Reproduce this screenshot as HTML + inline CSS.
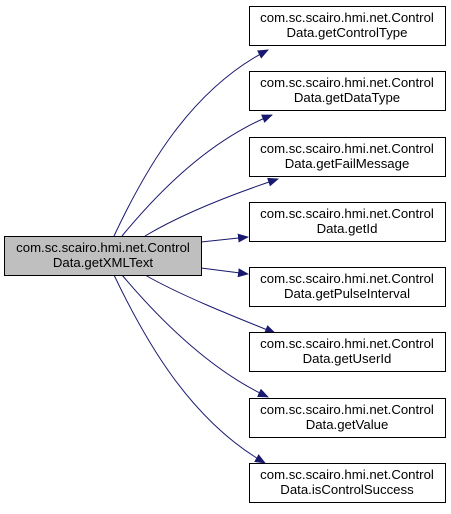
<!DOCTYPE html>
<html><head><style>
body{margin:0;background:#fff;width:451px;height:509px;overflow:hidden}
</style></head><body>
<svg width="451" height="509" viewBox="0 0 451 509" xmlns="http://www.w3.org/2000/svg" font-family="Liberation Sans, Arial, sans-serif" font-size="13.2">
<defs><marker id="a" markerWidth="11" markerHeight="9" refX="10" refY="4.5" orient="auto" markerUnits="userSpaceOnUse"><path d="M0,0 L11,4.5 L0,9 Z" fill="#191970"/></marker></defs>
<g fill="none" stroke="#191970" stroke-width="1" marker-end="url(#a)">
<path d="M114,236 C145,170 190,90 268,50"/>
<path d="M122,236 C160,190 210,140 272,115"/>
<path d="M145,236 C180,215 230,195 278,179"/>
<path d="M201,242 L248,237"/>
<path d="M201,268 L248,274"/>
<path d="M145,275 C180,295 230,315 275,333"/>
<path d="M122,275 C160,320 210,370 268,397"/>
<path d="M114,275 C145,340 190,420 265,463"/>
</g>
<rect x="4.5" y="236.5" width="197" height="39" fill="#bfbfbf" stroke="#000"/>
<text x="103" y="252" text-anchor="middle">com.sc.scairo.hmi.net.Control</text>
<text x="103" y="267" text-anchor="middle">Data.getXMLText</text>
<g fill="#fff" stroke="#000">
<rect x="249.5" y="6.5" width="196" height="39"/>
<rect x="249.5" y="71.5" width="196" height="39"/>
<rect x="249.5" y="137.5" width="196" height="39"/>
<rect x="249.5" y="202.5" width="196" height="39"/>
<rect x="249.5" y="267.5" width="196" height="39"/>
<rect x="249.5" y="332.5" width="196" height="39"/>
<rect x="249.5" y="398.5" width="196" height="39"/>
<rect x="249.5" y="463.5" width="196" height="39"/>
</g>
<g text-anchor="middle">
<text x="347" y="22">com.sc.scairo.hmi.net.Control</text><text x="347" y="37">Data.getControlType</text>
<text x="347" y="87">com.sc.scairo.hmi.net.Control</text><text x="347" y="102">Data.getDataType</text>
<text x="347" y="153">com.sc.scairo.hmi.net.Control</text><text x="347" y="168">Data.getFailMessage</text>
<text x="347" y="218">com.sc.scairo.hmi.net.Control</text><text x="347" y="233">Data.getId</text>
<text x="347" y="283">com.sc.scairo.hmi.net.Control</text><text x="347" y="298">Data.getPulseInterval</text>
<text x="347" y="348">com.sc.scairo.hmi.net.Control</text><text x="347" y="363">Data.getUserId</text>
<text x="347" y="414">com.sc.scairo.hmi.net.Control</text><text x="347" y="429">Data.getValue</text>
<text x="347" y="479">com.sc.scairo.hmi.net.Control</text><text x="347" y="494">Data.isControlSuccess</text>
</g>
</svg>
</body></html>
